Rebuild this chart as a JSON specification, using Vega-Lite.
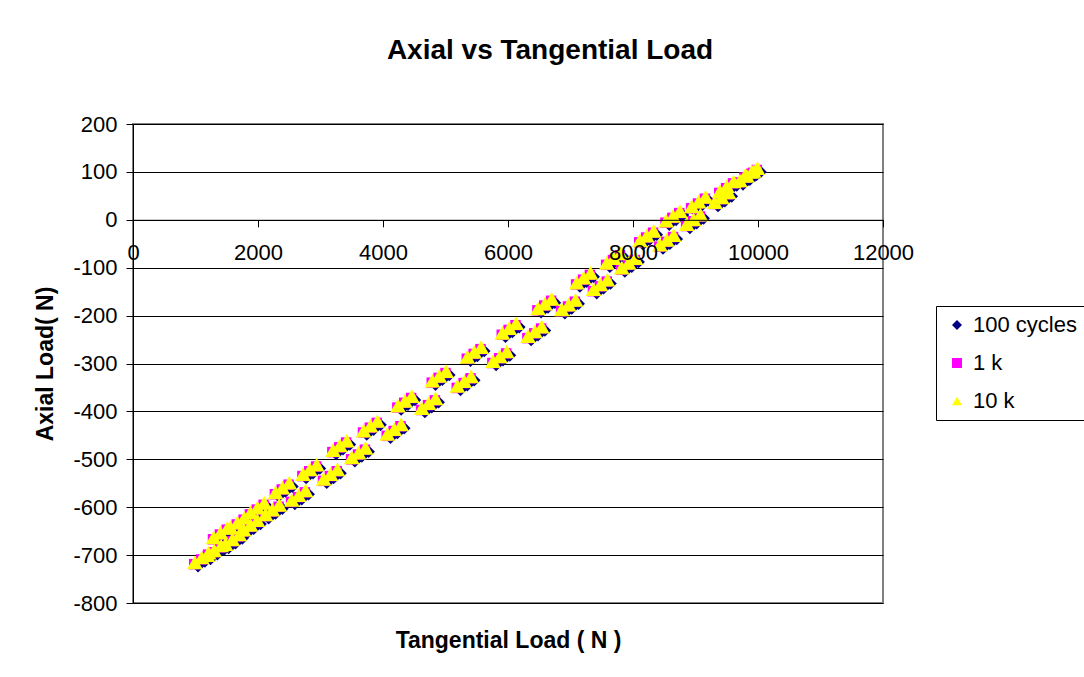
{
  "$schema": "https://vega.github.io/schema/vega-lite/v6.json",
  "width": 750,
  "height": 479,
  "autosize": "none",
  "padding": {"left": 133, "top": 124, "right": 201, "bottom": 74},
  "background": "white",
  "title": {
    "text": "Axial vs Tangential Load",
    "font": "Liberation Sans",
    "fontSize": 28,
    "fontWeight": "bold",
    "color": "black",
    "anchor": "middle",
    "frame": "group",
    "dx": 42,
    "offset": 48
  },
  "data": {
    "values": [
      {"s":"100 cycles","x":1040,"y":-723},{"s":"100 cycles","x":1150,"y":-713},{"s":"100 cycles","x":1260,"y":-703},
      {"s":"100 cycles","x":1340,"y":-671},{"s":"100 cycles","x":1450,"y":-661},{"s":"100 cycles","x":1560,"y":-651},
      {"s":"100 cycles","x":1610,"y":-650},{"s":"100 cycles","x":1720,"y":-640},{"s":"100 cycles","x":1830,"y":-630},
      {"s":"100 cycles","x":1930,"y":-619},{"s":"100 cycles","x":2040,"y":-609},{"s":"100 cycles","x":2150,"y":-599},
      {"s":"100 cycles","x":2330,"y":-577},{"s":"100 cycles","x":2440,"y":-567},{"s":"100 cycles","x":2550,"y":-557},
      {"s":"100 cycles","x":2770,"y":-539},{"s":"100 cycles","x":2880,"y":-529},{"s":"100 cycles","x":2990,"y":-519},
      {"s":"100 cycles","x":3250,"y":-489},{"s":"100 cycles","x":3360,"y":-479},{"s":"100 cycles","x":3470,"y":-469},
      {"s":"100 cycles","x":3740,"y":-448},{"s":"100 cycles","x":3850,"y":-438},{"s":"100 cycles","x":3960,"y":-428},
      {"s":"100 cycles","x":4290,"y":-396},{"s":"100 cycles","x":4400,"y":-386},{"s":"100 cycles","x":4510,"y":-376},
      {"s":"100 cycles","x":4840,"y":-344},{"s":"100 cycles","x":4950,"y":-334},{"s":"100 cycles","x":5060,"y":-324},
      {"s":"100 cycles","x":5400,"y":-294},{"s":"100 cycles","x":5510,"y":-284},{"s":"100 cycles","x":5620,"y":-274},
      {"s":"100 cycles","x":5960,"y":-244},{"s":"100 cycles","x":6070,"y":-234},{"s":"100 cycles","x":6180,"y":-224},
      {"s":"100 cycles","x":6530,"y":-193},{"s":"100 cycles","x":6640,"y":-183},{"s":"100 cycles","x":6750,"y":-173},
      {"s":"100 cycles","x":7150,"y":-139},{"s":"100 cycles","x":7260,"y":-129},{"s":"100 cycles","x":7370,"y":-119},
      {"s":"100 cycles","x":7630,"y":-98},{"s":"100 cycles","x":7740,"y":-88},{"s":"100 cycles","x":7850,"y":-78},
      {"s":"100 cycles","x":8160,"y":-51},{"s":"100 cycles","x":8270,"y":-41},{"s":"100 cycles","x":8380,"y":-31},
      {"s":"100 cycles","x":8580,"y":-10},{"s":"100 cycles","x":8690,"y":0},{"s":"100 cycles","x":8800,"y":10},
      {"s":"100 cycles","x":8990,"y":20},{"s":"100 cycles","x":9100,"y":30},{"s":"100 cycles","x":9210,"y":40},
      {"s":"100 cycles","x":9440,"y":52},{"s":"100 cycles","x":9550,"y":62},{"s":"100 cycles","x":9660,"y":72},
      {"s":"100 cycles","x":9840,"y":84},{"s":"100 cycles","x":9950,"y":92},{"s":"100 cycles","x":10040,"y":100},
      {"s":"100 cycles","x":1240,"y":-708},{"s":"100 cycles","x":1350,"y":-698},{"s":"100 cycles","x":1460,"y":-688},
      {"s":"100 cycles","x":1530,"y":-685},{"s":"100 cycles","x":1640,"y":-675},{"s":"100 cycles","x":1750,"y":-665},
      {"s":"100 cycles","x":1820,"y":-655},{"s":"100 cycles","x":1930,"y":-645},{"s":"100 cycles","x":2040,"y":-635},
      {"s":"100 cycles","x":2170,"y":-623},{"s":"100 cycles","x":2280,"y":-613},{"s":"100 cycles","x":2390,"y":-603},
      {"s":"100 cycles","x":2590,"y":-593},{"s":"100 cycles","x":2700,"y":-583},{"s":"100 cycles","x":2810,"y":-573},
      {"s":"100 cycles","x":3100,"y":-549},{"s":"100 cycles","x":3210,"y":-539},{"s":"100 cycles","x":3320,"y":-529},
      {"s":"100 cycles","x":3550,"y":-504},{"s":"100 cycles","x":3660,"y":-494},{"s":"100 cycles","x":3770,"y":-484},
      {"s":"100 cycles","x":4120,"y":-455},{"s":"100 cycles","x":4230,"y":-445},{"s":"100 cycles","x":4340,"y":-435},
      {"s":"100 cycles","x":4670,"y":-401},{"s":"100 cycles","x":4780,"y":-391},{"s":"100 cycles","x":4890,"y":-381},
      {"s":"100 cycles","x":5240,"y":-355},{"s":"100 cycles","x":5350,"y":-345},{"s":"100 cycles","x":5460,"y":-335},
      {"s":"100 cycles","x":5810,"y":-303},{"s":"100 cycles","x":5920,"y":-293},{"s":"100 cycles","x":6030,"y":-283},
      {"s":"100 cycles","x":6370,"y":-251},{"s":"100 cycles","x":6480,"y":-241},{"s":"100 cycles","x":6590,"y":-231},
      {"s":"100 cycles","x":6910,"y":-195},{"s":"100 cycles","x":7020,"y":-185},{"s":"100 cycles","x":7130,"y":-175},
      {"s":"100 cycles","x":7420,"y":-153},{"s":"100 cycles","x":7530,"y":-143},{"s":"100 cycles","x":7640,"y":-133},
      {"s":"100 cycles","x":7870,"y":-108},{"s":"100 cycles","x":7980,"y":-98},{"s":"100 cycles","x":8090,"y":-88},
      {"s":"100 cycles","x":8480,"y":-60},{"s":"100 cycles","x":8590,"y":-50},{"s":"100 cycles","x":8700,"y":-40},
      {"s":"100 cycles","x":8910,"y":-17},{"s":"100 cycles","x":9020,"y":-7},{"s":"100 cycles","x":9130,"y":3},
      {"s":"100 cycles","x":9360,"y":29},{"s":"100 cycles","x":9470,"y":39},{"s":"100 cycles","x":9580,"y":49},
      {"s":"100 cycles","x":9760,"y":74},{"s":"100 cycles","x":9870,"y":84},{"s":"100 cycles","x":9980,"y":94},

      {"s":"1 k","x":980,"y":-719},{"s":"1 k","x":1090,"y":-709},{"s":"1 k","x":1200,"y":-699},
      {"s":"1 k","x":1280,"y":-667},{"s":"1 k","x":1390,"y":-657},{"s":"1 k","x":1500,"y":-647},
      {"s":"1 k","x":1550,"y":-646},{"s":"1 k","x":1660,"y":-636},{"s":"1 k","x":1770,"y":-626},
      {"s":"1 k","x":1870,"y":-615},{"s":"1 k","x":1980,"y":-605},{"s":"1 k","x":2090,"y":-595},
      {"s":"1 k","x":2270,"y":-573},{"s":"1 k","x":2380,"y":-563},{"s":"1 k","x":2490,"y":-553},
      {"s":"1 k","x":2710,"y":-535},{"s":"1 k","x":2820,"y":-525},{"s":"1 k","x":2930,"y":-515},
      {"s":"1 k","x":3190,"y":-485},{"s":"1 k","x":3300,"y":-475},{"s":"1 k","x":3410,"y":-465},
      {"s":"1 k","x":3680,"y":-444},{"s":"1 k","x":3790,"y":-434},{"s":"1 k","x":3900,"y":-424},
      {"s":"1 k","x":4230,"y":-392},{"s":"1 k","x":4340,"y":-382},{"s":"1 k","x":4450,"y":-372},
      {"s":"1 k","x":4780,"y":-340},{"s":"1 k","x":4890,"y":-330},{"s":"1 k","x":5000,"y":-320},
      {"s":"1 k","x":5340,"y":-290},{"s":"1 k","x":5450,"y":-280},{"s":"1 k","x":5560,"y":-270},
      {"s":"1 k","x":5900,"y":-240},{"s":"1 k","x":6010,"y":-230},{"s":"1 k","x":6120,"y":-220},
      {"s":"1 k","x":6470,"y":-189},{"s":"1 k","x":6580,"y":-179},{"s":"1 k","x":6690,"y":-169},
      {"s":"1 k","x":7090,"y":-135},{"s":"1 k","x":7200,"y":-125},{"s":"1 k","x":7310,"y":-115},
      {"s":"1 k","x":7570,"y":-94},{"s":"1 k","x":7680,"y":-84},{"s":"1 k","x":7790,"y":-74},
      {"s":"1 k","x":8100,"y":-47},{"s":"1 k","x":8210,"y":-37},{"s":"1 k","x":8320,"y":-27},
      {"s":"1 k","x":8520,"y":-6},{"s":"1 k","x":8630,"y":4},{"s":"1 k","x":8740,"y":14},
      {"s":"1 k","x":8930,"y":24},{"s":"1 k","x":9040,"y":34},{"s":"1 k","x":9150,"y":44},
      {"s":"1 k","x":9380,"y":56},{"s":"1 k","x":9490,"y":66},{"s":"1 k","x":9600,"y":76},
      {"s":"1 k","x":9780,"y":88},{"s":"1 k","x":9890,"y":96},{"s":"1 k","x":9980,"y":104},
      {"s":"1 k","x":1180,"y":-704},{"s":"1 k","x":1290,"y":-694},{"s":"1 k","x":1400,"y":-684},
      {"s":"1 k","x":1470,"y":-681},{"s":"1 k","x":1580,"y":-671},{"s":"1 k","x":1690,"y":-661},
      {"s":"1 k","x":1760,"y":-651},{"s":"1 k","x":1870,"y":-641},{"s":"1 k","x":1980,"y":-631},
      {"s":"1 k","x":2110,"y":-619},{"s":"1 k","x":2220,"y":-609},{"s":"1 k","x":2330,"y":-599},
      {"s":"1 k","x":2530,"y":-589},{"s":"1 k","x":2640,"y":-579},{"s":"1 k","x":2750,"y":-569},
      {"s":"1 k","x":3040,"y":-545},{"s":"1 k","x":3150,"y":-535},{"s":"1 k","x":3260,"y":-525},
      {"s":"1 k","x":3490,"y":-500},{"s":"1 k","x":3600,"y":-490},{"s":"1 k","x":3710,"y":-480},
      {"s":"1 k","x":4060,"y":-451},{"s":"1 k","x":4170,"y":-441},{"s":"1 k","x":4280,"y":-431},
      {"s":"1 k","x":4610,"y":-397},{"s":"1 k","x":4720,"y":-387},{"s":"1 k","x":4830,"y":-377},
      {"s":"1 k","x":5180,"y":-351},{"s":"1 k","x":5290,"y":-341},{"s":"1 k","x":5400,"y":-331},
      {"s":"1 k","x":5750,"y":-299},{"s":"1 k","x":5860,"y":-289},{"s":"1 k","x":5970,"y":-279},
      {"s":"1 k","x":6310,"y":-247},{"s":"1 k","x":6420,"y":-237},{"s":"1 k","x":6530,"y":-227},
      {"s":"1 k","x":6850,"y":-191},{"s":"1 k","x":6960,"y":-181},{"s":"1 k","x":7070,"y":-171},
      {"s":"1 k","x":7360,"y":-149},{"s":"1 k","x":7470,"y":-139},{"s":"1 k","x":7580,"y":-129},
      {"s":"1 k","x":7810,"y":-104},{"s":"1 k","x":7920,"y":-94},{"s":"1 k","x":8030,"y":-84},
      {"s":"1 k","x":8420,"y":-56},{"s":"1 k","x":8530,"y":-46},{"s":"1 k","x":8640,"y":-36},
      {"s":"1 k","x":8850,"y":-13},{"s":"1 k","x":8960,"y":-3},{"s":"1 k","x":9070,"y":7},
      {"s":"1 k","x":9300,"y":33},{"s":"1 k","x":9410,"y":43},{"s":"1 k","x":9520,"y":53},
      {"s":"1 k","x":9700,"y":78},{"s":"1 k","x":9810,"y":88},{"s":"1 k","x":9920,"y":98},

      {"s":"10 k","x":990,"y":-715},{"s":"10 k","x":1100,"y":-705},{"s":"10 k","x":1210,"y":-695},
      {"s":"10 k","x":1290,"y":-663},{"s":"10 k","x":1400,"y":-653},{"s":"10 k","x":1510,"y":-643},
      {"s":"10 k","x":1560,"y":-642},{"s":"10 k","x":1670,"y":-632},{"s":"10 k","x":1780,"y":-622},
      {"s":"10 k","x":1880,"y":-611},{"s":"10 k","x":1990,"y":-601},{"s":"10 k","x":2100,"y":-591},
      {"s":"10 k","x":2280,"y":-569},{"s":"10 k","x":2390,"y":-559},{"s":"10 k","x":2500,"y":-549},
      {"s":"10 k","x":2720,"y":-531},{"s":"10 k","x":2830,"y":-521},{"s":"10 k","x":2940,"y":-511},
      {"s":"10 k","x":3200,"y":-481},{"s":"10 k","x":3310,"y":-471},{"s":"10 k","x":3420,"y":-461},
      {"s":"10 k","x":3690,"y":-440},{"s":"10 k","x":3800,"y":-430},{"s":"10 k","x":3910,"y":-420},
      {"s":"10 k","x":4240,"y":-388},{"s":"10 k","x":4350,"y":-378},{"s":"10 k","x":4460,"y":-368},
      {"s":"10 k","x":4790,"y":-336},{"s":"10 k","x":4900,"y":-326},{"s":"10 k","x":5010,"y":-316},
      {"s":"10 k","x":5350,"y":-286},{"s":"10 k","x":5460,"y":-276},{"s":"10 k","x":5570,"y":-266},
      {"s":"10 k","x":5910,"y":-236},{"s":"10 k","x":6020,"y":-226},{"s":"10 k","x":6130,"y":-216},
      {"s":"10 k","x":6480,"y":-185},{"s":"10 k","x":6590,"y":-175},{"s":"10 k","x":6700,"y":-165},
      {"s":"10 k","x":7100,"y":-131},{"s":"10 k","x":7210,"y":-121},{"s":"10 k","x":7320,"y":-111},
      {"s":"10 k","x":7580,"y":-90},{"s":"10 k","x":7690,"y":-80},{"s":"10 k","x":7800,"y":-70},
      {"s":"10 k","x":8110,"y":-43},{"s":"10 k","x":8220,"y":-33},{"s":"10 k","x":8330,"y":-23},
      {"s":"10 k","x":8530,"y":-2},{"s":"10 k","x":8640,"y":8},{"s":"10 k","x":8750,"y":18},
      {"s":"10 k","x":8940,"y":28},{"s":"10 k","x":9050,"y":38},{"s":"10 k","x":9160,"y":48},
      {"s":"10 k","x":9390,"y":60},{"s":"10 k","x":9500,"y":70},{"s":"10 k","x":9610,"y":80},
      {"s":"10 k","x":9790,"y":92},{"s":"10 k","x":9900,"y":100},{"s":"10 k","x":9990,"y":108},
      {"s":"10 k","x":1190,"y":-700},{"s":"10 k","x":1300,"y":-690},{"s":"10 k","x":1410,"y":-680},
      {"s":"10 k","x":1480,"y":-677},{"s":"10 k","x":1590,"y":-667},{"s":"10 k","x":1700,"y":-657},
      {"s":"10 k","x":1770,"y":-647},{"s":"10 k","x":1880,"y":-637},{"s":"10 k","x":1990,"y":-627},
      {"s":"10 k","x":2120,"y":-615},{"s":"10 k","x":2230,"y":-605},{"s":"10 k","x":2340,"y":-595},
      {"s":"10 k","x":2540,"y":-585},{"s":"10 k","x":2650,"y":-575},{"s":"10 k","x":2760,"y":-565},
      {"s":"10 k","x":3050,"y":-541},{"s":"10 k","x":3160,"y":-531},{"s":"10 k","x":3270,"y":-521},
      {"s":"10 k","x":3500,"y":-496},{"s":"10 k","x":3610,"y":-486},{"s":"10 k","x":3720,"y":-476},
      {"s":"10 k","x":4070,"y":-447},{"s":"10 k","x":4180,"y":-437},{"s":"10 k","x":4290,"y":-427},
      {"s":"10 k","x":4620,"y":-393},{"s":"10 k","x":4730,"y":-383},{"s":"10 k","x":4840,"y":-373},
      {"s":"10 k","x":5190,"y":-347},{"s":"10 k","x":5300,"y":-337},{"s":"10 k","x":5410,"y":-327},
      {"s":"10 k","x":5760,"y":-295},{"s":"10 k","x":5870,"y":-285},{"s":"10 k","x":5980,"y":-275},
      {"s":"10 k","x":6320,"y":-243},{"s":"10 k","x":6430,"y":-233},{"s":"10 k","x":6540,"y":-223},
      {"s":"10 k","x":6860,"y":-187},{"s":"10 k","x":6970,"y":-177},{"s":"10 k","x":7080,"y":-167},
      {"s":"10 k","x":7370,"y":-145},{"s":"10 k","x":7480,"y":-135},{"s":"10 k","x":7590,"y":-125},
      {"s":"10 k","x":7820,"y":-100},{"s":"10 k","x":7930,"y":-90},{"s":"10 k","x":8040,"y":-80},
      {"s":"10 k","x":8430,"y":-52},{"s":"10 k","x":8540,"y":-42},{"s":"10 k","x":8650,"y":-32},
      {"s":"10 k","x":8860,"y":-9},{"s":"10 k","x":8970,"y":1},{"s":"10 k","x":9080,"y":11},
      {"s":"10 k","x":9310,"y":37},{"s":"10 k","x":9420,"y":47},{"s":"10 k","x":9530,"y":57},
      {"s":"10 k","x":9710,"y":82},{"s":"10 k","x":9820,"y":92},{"s":"10 k","x":9930,"y":102}
    ]
  },
  "encoding": {
    "x": {
      "field": "x",
      "type": "quantitative",
      "scale": {"domain": [0, 12000], "nice": false, "zero": false},
      "axis": {
        "values": [0, 2000, 4000, 6000, 8000, 10000, 12000],
        "labelExpr": "'' + datum.value",
        "offset": -383.2,
        "zindex": 1,
        "grid": false,
        "domainColor": "black",
        "domainWidth": 1,
        "tickColor": "black",
        "tickSize": 7,
        "labelPadding": 16,
        "labelFlush": false,
        "labelOverlap": false,
        "labelFontSize": 22,
        "labelColor": "black",
        "title": "Tangential Load ( N )",
        "titleFontSize": 23,
        "titleFontWeight": "bold",
        "titleColor": "black",
        "titleY": 421,
        "titleBaseline": "middle"
      }
    },
    "y": {
      "field": "y",
      "type": "quantitative",
      "scale": {"domain": [-800, 200], "nice": false, "zero": false},
      "axis": {
        "values": [-800, -700, -600, -500, -400, -300, -200, -100, 0, 100, 200],
        "labelExpr": "'' + datum.value",
        "grid": true,
        "gridColor": "black",
        "gridWidth": 1,
        "gridOpacity": 1,
        "domainColor": "black",
        "domainWidth": 1,
        "tickColor": "black",
        "tickSize": 7,
        "labelPadding": 9,
        "labelFontSize": 22,
        "labelColor": "black",
        "labelOverlap": false,
        "title": "Axial Load( N)",
        "titleFontSize": 23,
        "titleFontWeight": "bold",
        "titleColor": "black",
        "titleX": -88,
        "titleBaseline": "middle"
      }
    },
    "color": {
      "field": "s",
      "type": "nominal",
      "scale": {"domain": ["100 cycles", "1 k", "10 k"], "range": ["#000080", "#FF00FF", "#FFFF00"]},
      "legend": {
        "title": null,
        "orient": "none",
        "legendX": 803,
        "legendY": 182,
        "strokeColor": "black",
        "fillColor": "white",
        "padding": 8,
        "symbolOffset": 2,
        "rowPadding": 16,
        "labelOffset": 5,
        "labelFontSize": 22,
        "labelColor": "black",
        "symbolSize": 100,
        "symbolStrokeWidth": 0
      }
    },
    "shape": {
      "field": "s",
      "type": "nominal",
      "scale": {"domain": ["100 cycles", "1 k", "10 k"], "range": ["diamond", "square", "triangle-up"]}
    }
  },
  "layer": [
    {
      "transform": [{"filter": "datum.s === '100 cycles'"}],
      "mark": {"type": "point", "filled": true, "opacity": 1, "strokeWidth": 0, "size": 160}
    },
    {
      "transform": [{"filter": "datum.s === '1 k'"}],
      "mark": {"type": "point", "filled": true, "opacity": 1, "strokeWidth": 0, "size": 110}
    },
    {
      "transform": [{"filter": "datum.s === '10 k'"}],
      "mark": {"type": "point", "filled": true, "opacity": 1, "strokeWidth": 0, "size": 250}
    }
  ],
  "config": {
    "font": "Liberation Sans",
    "view": {"stroke": "#808080", "strokeWidth": 2},
    "axis": {"labelFont": "Liberation Sans", "titleFont": "Liberation Sans"},
    "legend": {"labelFont": "Liberation Sans"}
  }
}
